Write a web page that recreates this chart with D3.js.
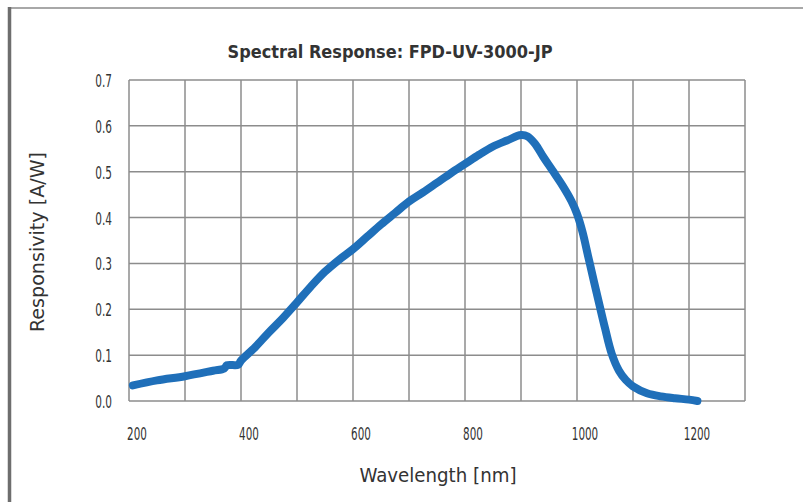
<!DOCTYPE html>
<html>
<head>
<meta charset="utf-8">
<script src="https://cdn.jsdelivr.net/npm/d3@7"></script>
<style>
  body { margin: 0; background: #fff; }
  svg text { font-family: "Liberation Sans Narrow", "DejaVu Sans Condensed", "Roboto", sans-serif; fill: #333; }
</style>
</head>
<body>
<svg width="803" height="502"></svg>
<script>
// wavelength (nm) and responsivity (A/W)
const wavelength = [207, 250, 300, 350, 370, 375, 395, 400, 425, 450, 475, 500, 525, 550, 575, 600, 625, 650, 675, 700,
  725, 750, 775, 800, 825, 850, 875, 900, 912, 925, 940, 956, 975, 990, 1000, 1010, 1020, 1030, 1040, 1050,
  1062, 1075, 1087, 1100, 1125, 1150, 1175, 1200, 1215];
const responsivity = [0.034, 0.045, 0.054, 0.066, 0.071, 0.078, 0.079, 0.088, 0.117, 0.150, 0.181, 0.215, 0.250, 0.282, 0.308, 0.331, 0.358, 0.385, 0.410, 0.435,
  0.455, 0.476, 0.497, 0.517, 0.537, 0.555, 0.568, 0.580, 0.577, 0.561, 0.532, 0.503, 0.468, 0.436, 0.408, 0.368, 0.315, 0.262, 0.210, 0.159,
  0.103, 0.066, 0.046, 0.032, 0.017, 0.010, 0.006, 0.003, 0.000];
const xGrid = d3.range(200, 1301, 100);
const xTickLabels = [200, 400, 600, 800, 1000, 1200];
const yTicks = [0, 0.1, 0.2, 0.3, 0.4, 0.5, 0.6, 0.7];

const svg = d3.select("svg");
const margin = {top: 80, right: 58, bottom: 101, left: 129};
const width = +svg.attr("width") - margin.left - margin.right;
const height = +svg.attr("height") - margin.top - margin.bottom;

// frame lines of the original figure
svg.append("line").attr("x1", 8).attr("x2", 803).attr("y1", 8).attr("y2", 8)
  .attr("stroke", "#a8a8a8").attr("stroke-width", 2);
svg.append("line").attr("x1", 9.5).attr("x2", 9.5).attr("y1", 7).attr("y2", 502)
  .attr("stroke", "#6e6e6e").attr("stroke-width", 3.5);

const g = svg.append("g").attr("transform", `translate(${margin.left},${margin.top})`);

const x = d3.scaleLinear().domain([200, 1300]).range([0, width]);
const y = d3.scaleLinear().domain([0, 0.7]).range([height, 0]);

// grid
g.append("g").selectAll("line").data(xGrid).join("line")
  .attr("x1", d => x(d)).attr("x2", d => x(d)).attr("y1", 0).attr("y2", height)
  .attr("stroke", "#8c8c8c").attr("stroke-width", 1.5);
g.append("g").selectAll("line").data(yTicks).join("line")
  .attr("x1", 0).attr("x2", width).attr("y1", d => y(d)).attr("y2", d => y(d))
  .attr("stroke", "#8c8c8c").attr("stroke-width", 1.5);

// narrow look of the original digits
const labelWidth = s => s.replace(/\./g, "").length * 6.6 + (s.includes(".") ? 3.5 : 0);

// tick labels
g.append("g").selectAll("text").data(xTickLabels).join("text")
  .attr("x", d => x(d) + 8).attr("y", height + 39)
  .attr("text-anchor", "middle").attr("font-size", 17)
  .attr("textLength", d => labelWidth(String(d))).attr("lengthAdjust", "spacingAndGlyphs")
  .text(d => d);
g.append("g").selectAll("text").data(yTicks).join("text")
  .attr("x", -17).attr("y", d => y(d) + 7)
  .attr("text-anchor", "end").attr("font-size", 17)
  .attr("textLength", d => labelWidth(d.toFixed(1))).attr("lengthAdjust", "spacingAndGlyphs")
  .text(d => d.toFixed(1));

// curve
const pts = wavelength.map((w, i) => ({w: w, r: responsivity[i]}));
const line = d3.line().x(d => x(d.w)).y(d => y(d.r)).curve(d3.curveCatmullRom.alpha(0.5));
g.append("path").datum(pts)
  .attr("fill", "none").attr("stroke", "#1f6fb9").attr("stroke-width", 8)
  .attr("stroke-linecap", "round").attr("stroke-linejoin", "round")
  .attr("d", line);

// titles
svg.append("text").attr("x", 390).attr("y", 58).attr("text-anchor", "middle")
  .attr("font-size", 18).attr("font-weight", "bold")
  .attr("textLength", 325).attr("lengthAdjust", "spacingAndGlyphs")
  .text("Spectral Response: FPD-UV-3000-JP");
svg.append("text").attr("x", 438).attr("y", 482).attr("text-anchor", "middle")
  .attr("font-size", 19)
  .attr("textLength", 157).attr("lengthAdjust", "spacingAndGlyphs")
  .text("Wavelength [nm]");
svg.append("text").attr("transform", "translate(44,242) rotate(-90)").attr("text-anchor", "middle")
  .attr("font-size", 19)
  .attr("textLength", 180).attr("lengthAdjust", "spacingAndGlyphs")
  .text("Responsivity [A/W]");
</script>
</body>
</html>
